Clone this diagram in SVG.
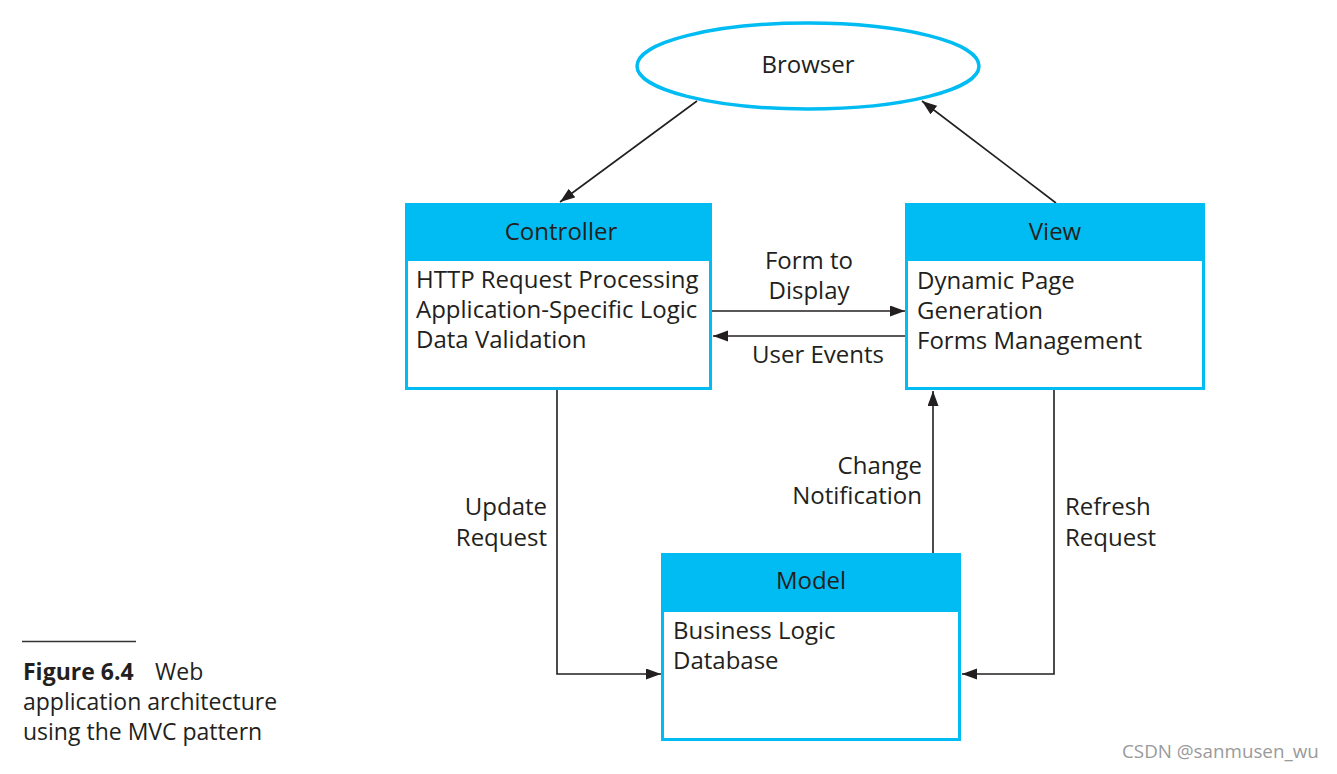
<svg xmlns="http://www.w3.org/2000/svg" width="1337" height="774" viewBox="0 0 1337 774">
<defs>
<style>
.t{font-family:"Open Sans","Liberation Sans",sans-serif;font-size:24px;fill:#231f20}
.box{fill:#fff;stroke:#00bcf2;stroke-width:3}
.hdr{fill:#00bcf2}
.c{text-anchor:middle}
.r{text-anchor:end}
.ln{fill:none;stroke:#231f20;stroke-width:1.6}
.cap{font-family:"Open Sans","Liberation Sans",sans-serif;font-size:23px;fill:#231f20}
</style>
<marker id="ah" markerUnits="userSpaceOnUse" markerWidth="16" markerHeight="12" refX="15" refY="5.5" orient="auto">
<path d="M0,0 L15,5.5 L0,11 z" fill="#231f20"/>
</marker>
</defs>
<rect width="1337" height="774" fill="#fff"/>

<g id="connectors">
<line class="ln" x1="697" y1="101" x2="560" y2="202" marker-end="url(#ah)"/>
<line class="ln" x1="1056" y1="203" x2="922" y2="101" marker-end="url(#ah)"/>
<line class="ln" x1="712" y1="311" x2="905" y2="311" marker-end="url(#ah)"/>
<line class="ln" x1="905" y1="336" x2="713" y2="336" marker-end="url(#ah)"/>
<polyline class="ln" points="557,390 557,674 661,674" marker-end="url(#ah)"/>
<polyline class="ln" points="1054,390 1054,674 962,674" marker-end="url(#ah)"/>
<line class="ln" x1="933" y1="553" x2="933" y2="391" marker-end="url(#ah)"/>
<text class="t c" x="809" y="269">Form to</text>
<text class="t c" x="809" y="299">Display</text>
<text class="t c" x="818" y="363">User Events</text>
<text class="t r" x="547" y="515">Update</text>
<text class="t r" x="547" y="546">Request</text>
<text class="t r" x="922" y="474">Change</text>
<text class="t r" x="922" y="504">Notification</text>
<text class="t" x="1065" y="515">Refresh</text>
<text class="t" x="1065" y="546">Request</text>
</g>

<g id="browser">
<ellipse cx="808" cy="66" rx="171" ry="43" fill="#fff" stroke="#00bcf2" stroke-width="3.5"/>
<text class="t c" x="808" y="73">Browser</text>
</g>

<g id="controller">
<rect class="box" x="406.5" y="204.5" width="304" height="184"/>
<rect class="hdr" x="405" y="203" width="307" height="58"/>
<text class="t c" x="561" y="240">Controller</text>
<text class="t" x="416" y="288">HTTP Request Processing</text>
<text class="t" x="416" y="318">Application-Specific Logic</text>
<text class="t" x="416" y="348">Data Validation</text>
</g>

<g id="view">
<rect class="box" x="906.5" y="204.5" width="297" height="184"/>
<rect class="hdr" x="905" y="203" width="300" height="58"/>
<text class="t c" x="1055" y="240">View</text>
<text class="t" x="917" y="289">Dynamic Page</text>
<text class="t" x="917" y="319">Generation</text>
<text class="t" x="917" y="349">Forms Management</text>
</g>

<g id="model">
<rect class="box" x="662.5" y="554.5" width="297" height="185"/>
<rect class="hdr" x="661" y="553" width="300" height="59"/>
<text class="t c" x="811" y="589">Model</text>
<text class="t" x="673" y="639">Business Logic</text>
<text class="t" x="673" y="669">Database</text>
</g>

<g id="caption">
<line x1="22" y1="641.5" x2="136" y2="641.5" stroke="#333" stroke-width="1.6"/>
<text class="cap" x="23" y="680"><tspan font-weight="bold">Figure 6.4</tspan><tspan x="155">Web</tspan></text>
<text class="cap" x="23" y="710">application architecture</text>
<text class="cap" x="23" y="740">using the MVC pattern</text>
</g>

<text x="1122" y="758" font-family="Open Sans, Liberation Sans, sans-serif" font-size="18.8" fill="#9a9a9a">CSDN @sanmusen_wu</text>
</svg>
